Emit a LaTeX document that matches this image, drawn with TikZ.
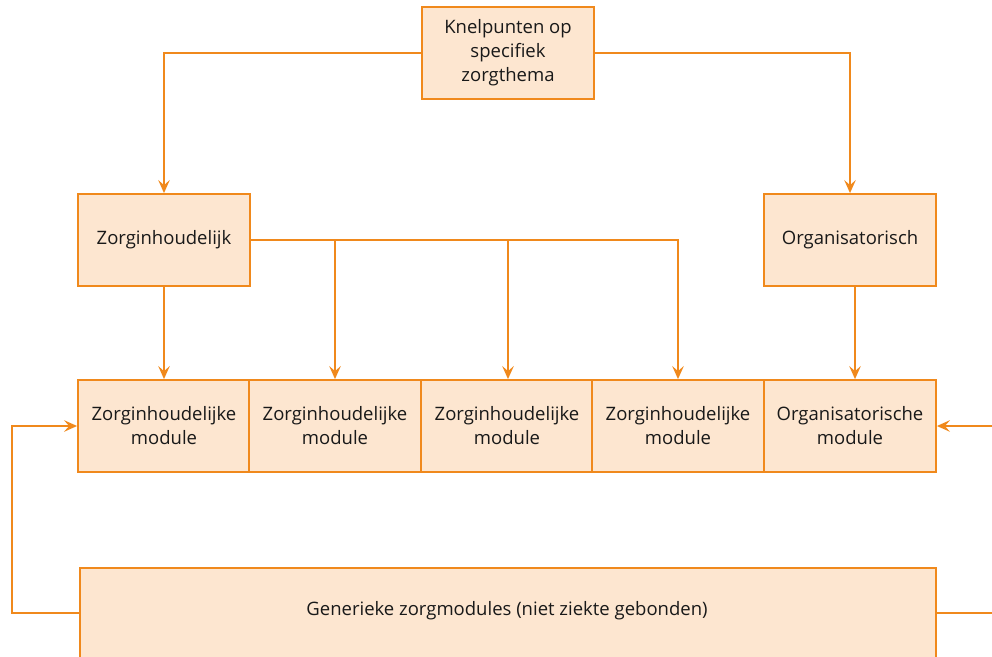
\documentclass[tikz,border=0pt]{standalone}
\usepackage{fontspec}
\setmainfont{Open Sans}
\usetikzlibrary{arrows.meta}
\definecolor{boxfill}{HTML}{FDE6D0}
\definecolor{edge}{HTML}{F0891C}
\begin{document}
\begin{tikzpicture}[x=1pt,y=-1pt,
  txt/.style={font=\fontsize{18.5}{24}\selectfont,text=black!90},
  box/.style={draw=edge,fill=boxfill,line width=1.8pt,inner sep=0pt,align=center,txt},
  conn/.style={draw=edge,line width=1.8pt},
  arr/.style={conn,-{Stealth[length=13pt,width=11.5pt,inset=5pt]}}]
\useasboundingbox (0,0) rectangle (992,656);
\node[box,minimum width=172pt,minimum height=92pt] (top) at (508,53) {Knelpunten op\\specifiek\\zorgthema};
\node[box,minimum width=172pt,minimum height=92pt] (zi) at (164,240) {Zorginhoudelijk};
\node[box,minimum width=172pt,minimum height=92pt] (org) at (850,240) {Organisatorisch};
\node[box,minimum width=172pt,minimum height=92pt] (m1) at (164,426) {Zorginhoudelijke\\module};
\node[box,minimum width=172pt,minimum height=92pt] (m2) at (335,426) {Zorginhoudelijke\\module};
\node[box,minimum width=172pt,minimum height=92pt] (m3) at (507,426) {Zorginhoudelijke\\module};
\node[box,minimum width=172pt,minimum height=92pt] (m4) at (678,426) {Zorginhoudelijke\\module};
\node[box,minimum width=172pt,minimum height=92pt] (m5) at (850,426) {Organisatorische\\module};
\begin{scope}
\clip (0,0) rectangle (992,656);
\node[box,minimum width=856pt,minimum height=100pt,anchor=north west] (gen) at (79,567) {};
\end{scope}
\node[txt] (gentxt) at (507,611) {Generieke zorgmodules (niet ziekte gebonden)};
\coordinate (lft) at (12,0);
\coordinate (rgt) at (992,0);
% top connectors
\draw[arr] (top.west) -| (zi.north);
\draw[arr] (top.east) -| (org.north);
% zorginhoudelijk connectors
\draw[arr] (zi.south) -- (m1.north);
\draw[arr] (zi.east) -| (m2.north);
\draw[arr] (zi.east) -| (m3.north -| 508,0);
\draw[arr] (zi.east) -| (m4.north);
\draw[arr] (org.south -| 855,0) -- (m5.north -| 855,0);
% feedback loops
\draw[arr] (gen.west |- 0,613) -| (lft |- m1.west) -- (m1.west);
\draw[conn] (gen.east |- 0,613) -- (rgt |- 0,613);
\draw[arr] (rgt |- m5.east) -- (m5.east);
\end{tikzpicture}
\end{document}
